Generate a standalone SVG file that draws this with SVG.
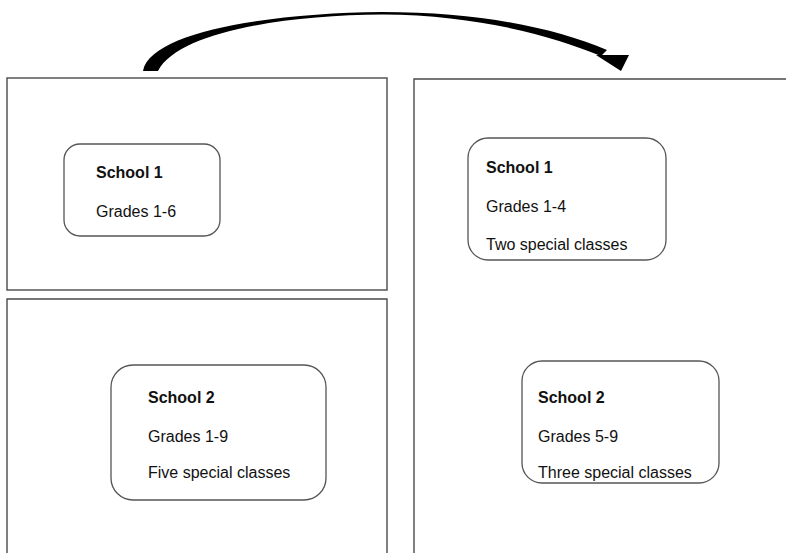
<svg xmlns="http://www.w3.org/2000/svg" width="786" height="553" viewBox="0 0 786 553">
  <style>
    .panel { fill: none; stroke: #4a4a4a; stroke-width: 1.4; }
    .school { fill: #ffffff; stroke: #555555; stroke-width: 1.3; }
    text { font-family: "Liberation Sans", Arial, sans-serif; font-size: 16px; fill: #111111; }
    .title { font-weight: bold; }
  </style>
  <rect width="786" height="553" fill="#ffffff"/>

  <!-- frames for the before / after layouts -->
  <g id="panels">
    <rect id="panel-before-1" class="panel" x="7" y="78" width="380" height="212"/>
    <path id="panel-before-2" class="panel" d="M7,555 V299 H387 V555"/>
    <path id="panel-after" class="panel" d="M414,555 V79 H788"/>
  </g>

  <g id="connectors">
    <!-- tapered curved arrow from the old layout to the new one -->
    <path d="M143,71 C150,32 270,13 382,12 C480,12 555,28 607,50 L601,56 C552,36 478,15 382,14.5 C285,15 178,32 158,71 Z" fill="#000000"/>
    <polygon points="596,55 629,55 621,71" fill="#000000"/>
  </g>

  <g id="school1-before">
    <rect class="school" x="64" y="144" width="156" height="92" rx="16"/>
    <text class="title" x="96" y="178">School 1</text>
    <text x="96" y="217">Grades 1-6</text>
  </g>

  <g id="school2-before">
    <rect class="school" x="111" y="365" width="215" height="135" rx="22"/>
    <text class="title" x="148" y="403">School 2</text>
    <text x="148" y="442">Grades 1-9</text>
    <text x="148" y="478">Five special classes</text>
  </g>

  <g id="school1-after">
    <rect class="school" x="468" y="138" width="198" height="122" rx="20"/>
    <text class="title" x="486" y="173">School 1</text>
    <text x="486" y="212">Grades 1-4</text>
    <text x="486" y="250">Two special classes</text>
  </g>

  <g id="school2-after">
    <rect class="school" x="522" y="361" width="197" height="122" rx="20"/>
    <text class="title" x="538" y="403">School 2</text>
    <text x="538" y="442">Grades 5-9</text>
    <text x="538" y="478">Three special classes</text>
  </g>
</svg>
